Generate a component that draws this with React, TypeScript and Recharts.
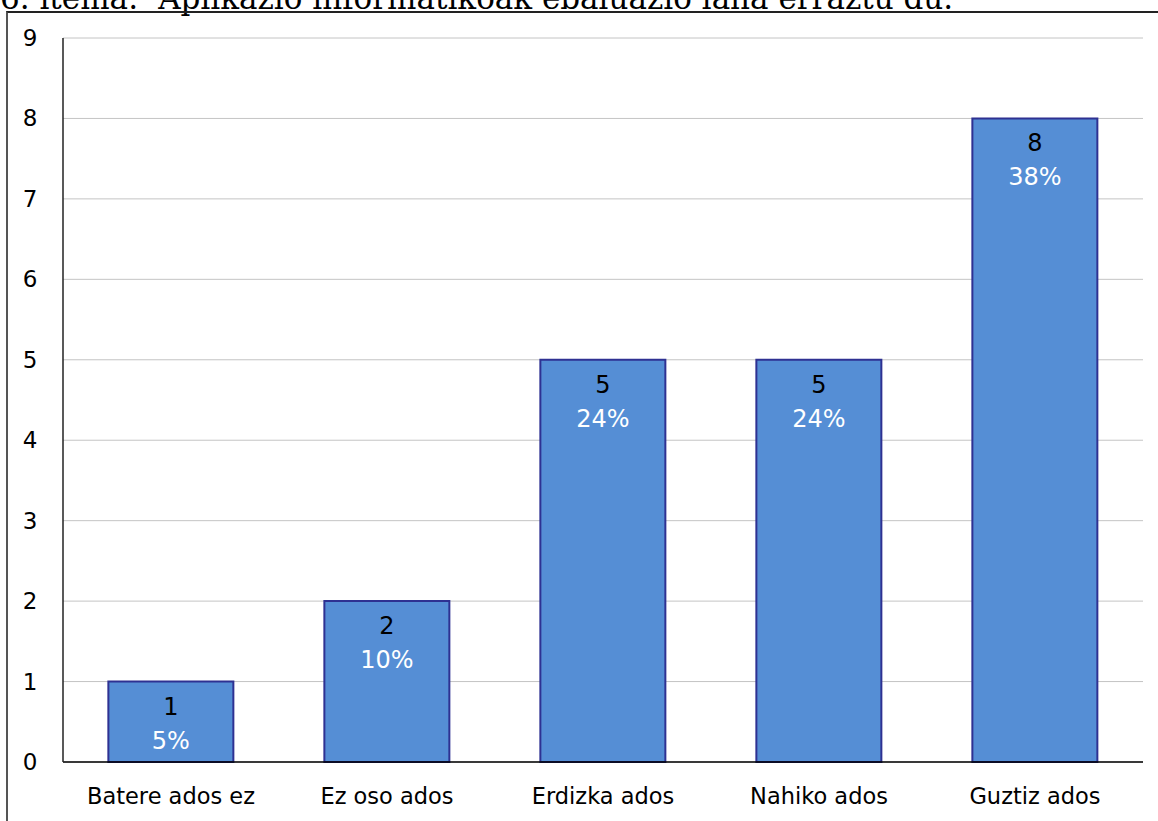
import React from 'react';
import { BarChart, Bar, XAxis, YAxis, CartesianGrid, LabelList } from 'recharts';

const categories = ['Batere ados ez', 'Ez oso ados', 'Erdizka ados', 'Nahiko ados', 'Guztiz ados'];
const counts = [1, 2, 5, 5, 8];
const percents = ['5%', '10%', '24%', '24%', '38%'];
const yTicks = [0, 1, 2, 3, 4, 5, 6, 7, 8, 9];

const data = categories.map((name, i) => ({ name, count: counts[i], pct: percents[i] }));

const FONT = '"DejaVu Sans", Verdana, sans-serif';

const YTick = ({ y, payload }: any) => (
  <text x={30} y={y} textAnchor="middle" dominantBaseline="central" fontSize={23} fill="#000" fontFamily={FONT}>
    {payload.value}
  </text>
);

const BarLabel = ({ x, y, width, index }: any) => {
  const cx = x + width / 2;
  return (
    <g fontFamily={FONT} fontSize={24} textAnchor="middle">
      <text x={cx} y={y + 25} dominantBaseline="central" fill="#000">
        {counts[index]}
      </text>
      <text x={cx} y={y + 59} dominantBaseline="central" fill="#fff">
        {percents[index]}
      </text>
    </g>
  );
};

export default function App() {
  return (
    <div style={{ position: 'absolute', left: 0, top: 0, width: 1158, height: 821, background: '#fff', overflow: 'hidden' }}>
      <div
        style={{
          position: 'absolute',
          left: 0,
          top: -17,
          fontFamily: '"DejaVu Serif", serif',
          fontSize: 31,
          whiteSpace: 'nowrap',
          lineHeight: '31px',
        }}
      >
        6. itema:&nbsp; Aplikazio informatikoak ebaluazio lana erraztu du.
      </div>
      <div
        style={{
          position: 'absolute',
          left: 6,
          top: 11,
          width: 1160,
          height: 820,
          borderLeft: '2px solid #555',
          borderTop: '2px solid #222',
        }}
      />
      <div style={{ position: 'absolute', left: 0, top: 0 }}>
        <BarChart
          width={1158}
          height={821}
          data={data}
          margin={{ top: 38, right: 15, left: 0, bottom: 29 }}
          barCategoryGap="21%"
        >
          <CartesianGrid horizontal vertical={false} stroke="#c4c4c4" strokeWidth={1} />
          <XAxis
            dataKey="name"
            height={30}
            axisLine={{ stroke: '#000', strokeWidth: 1.5 }}
            tickLine={false}
            tickMargin={20}
            tick={{ fontSize: 22.5, fill: '#000', fontFamily: FONT }}
            interval={0}
          />
          <YAxis
            width={63}
            domain={[0, 9]}
            ticks={yTicks}
            axisLine={{ stroke: '#222', strokeWidth: 1.5 }}
            tickLine={false}
            tick={<YTick />}
            interval={0}
          />
          <Bar dataKey="count" fill="#558ED5" stroke="#2E3192" strokeWidth={2} isAnimationActive={false}>
            <LabelList dataKey="count" content={<BarLabel />} />
          </Bar>
        </BarChart>
      </div>
    </div>
  );
}
